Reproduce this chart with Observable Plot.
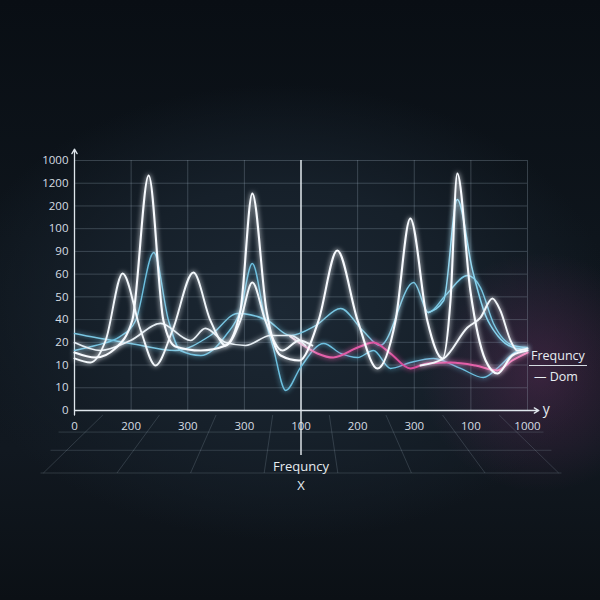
<!DOCTYPE html>
<html><head><meta charset="utf-8">
<script src="https://cdn.jsdelivr.net/npm/d3@7"></script>
<script src="https://cdn.jsdelivr.net/npm/@observablehq/plot@0.6"></script>
<style>
html,body{margin:0;padding:0;width:600px;height:600px;overflow:hidden;}
body{
  position:relative;
  font-family:"Open Sans",sans-serif;
  background:
    radial-gradient(ellipse 20% 20% at 90% 62%, rgba(120,50,105,0.38), rgba(120,50,105,0) 100%),
    radial-gradient(ellipse 55% 38% at 47% 52%, #1c2834 0%, #16202a 55%, rgba(16,24,32,0) 100%),
    linear-gradient(#090e14 0%, #0e151c 40%, #111820 75%, #0b1015 100%);
}
#chart{position:absolute;left:0;top:0;}
.legend{position:absolute;left:529px;top:348px;color:#e8eef2;font-size:12.5px;line-height:15px;}
.legend .t{border-bottom:1px solid #d5dce2;padding:0 2px 2px 2px;}
.legend .d{padding-left:5px;margin-top:3px;}
</style></head><body>
<div id="chart"></div>
<div class="legend"><div class="t">Frequncy</div><div class="d">— Dom</div></div>
<script>
// Tick labels (as printed in the reference)
const xTickLabels = ["0","200","300","300","100","200","300","100","1000"];
const yTickLabels = ["0","10","10","20","40","50","60","90","100","200","1200","1000"];

// Series values: [x position index, y grid level]
const lineA = [[0,2.55],[0.37,2.33],[0.72,2.73],[1.02,3.96],[1.31,10.34],[1.57,3.96],[1.78,2.82],[2.23,2.64],[2.67,2.86],[2.93,4.40],[3.14,9.55],[3.39,4.40],[3.64,2.42],[3.97,2.20],[4.31,3.96],[4.64,7.04],[5.00,3.96],[5.35,1.85],[5.67,3.96],[5.93,8.45],[6.23,3.96],[6.50,2.29],[6.64,4.84],[6.76,10.43],[6.99,5.28],[7.26,2.20],[7.47,1.63],[7.73,2.42],[8,2.64]];
const lineB = [[0,2.29],[0.28,2.11],[0.55,3.08],[0.85,6.03],[1.17,3.52],[1.43,1.98],[1.73,3.52],[2.10,6.07],[2.40,3.96],[2.67,2.86],[2.93,3.96],[3.14,5.63],[3.37,3.96],[3.67,2.64],[3.97,3.08],[4.20,2.86]];
const lineC = [[0,2.64],[0.37,2.86],[0.81,3.26],[1.08,3.96],[1.40,6.95],[1.66,3.96],[1.87,2.64],[2.23,2.42],[2.67,3.30],[2.93,4.40],[3.14,6.47],[3.37,3.96],[3.50,2.86],[3.73,0.88],[3.99,1.89],[4.40,2.95],[4.70,2.51],[5.00,2.33],[5.28,2.64],[5.58,1.85],[5.93,2.11],[6.34,2.29],[6.82,1.85],[7.22,1.45],[7.52,1.98],[7.75,2.51],[8,2.73]];
const lineD = [[0,2.99],[0.46,2.64],[0.99,3.08],[1.52,3.83],[2.05,3.08],[2.31,3.61],[2.67,2.99],[3.02,2.86],[3.46,3.30],[3.81,3.30],[4.08,2.86]];
const lineE = [[0,3.39],[0.37,3.21],[0.99,2.95],[1.78,2.64],[2.40,3.30],[2.88,4.27],[3.41,3.96],[3.81,3.30],[4.26,3.74],[4.70,4.49],[5.09,3.52],[5.40,2.86],[5.99,5.63],[6.25,4.31],[6.55,5.06],[6.94,5.94],[7.17,5.41],[7.40,3.83],[7.75,2.86],[8,2.77]];
const lineI = [[6.25,4.31],[6.52,4.84],[6.76,9.28],[7.03,6.16],[7.26,4.18],[7.47,3.30],[7.75,2.77],[8,2.68]];
const lineG = [[3.81,3.26],[3.99,2.95],[4.29,2.51],[4.57,2.33],[5.00,2.77],[5.28,2.99],[5.58,2.51],[5.93,1.85],[6.23,2.07],[6.64,2.11],[7.08,1.98],[7.47,1.76],[7.73,2.20],[8,2.55]];
const lineH = [[6.11,1.98],[6.52,2.29],[6.94,3.65],[7.17,4.09],[7.38,4.93],[7.52,4.40],[7.70,3.08],[7.82,2.64],[8,2.73]];

const seriesList = [
  {pts: lineE, color: "#78c6e2", width: 1.4},
  {pts: lineC, color: "#6cc0e0", width: 1.4},
  {pts: lineI, color: "#86d2ee", width: 1.5},
  {pts: lineG, color: "url(#pinkGrad)", width: 2.0},
  {pts: lineD, color: "#e6eef4", width: 1.7},
  {pts: lineH, color: "#f2f6fa", width: 1.9},
  {pts: lineB, color: "#f2f7fb", width: 1.9},
  {pts: lineA, color: "#f8fbff", width: 2.1}
];

// Floor decoration (perspective grid below the axis)
const floorCols = [0.5,1.5,2.5,3.5,4.5,5.5,6.5,7.5];
const floorRows = [-0.95,-1.75,-2.75];
const floorTop = -0.2, floorBottom = -2.75, colSpread = 1.3, center = 4;
const floorColLinks = floorCols.map(x => ({x1: x, y1: floorTop, x2: center + (x - center) * colSpread, y2: floorBottom}));
const floorRowLinks = floorRows.map(y => {
  const t = (floorTop - y) / (floorTop - floorBottom);
  const half = 4.15 + 0.45 * t;
  return {x1: center - half, x2: center + half, y1: y, y2: y};
});

const marks = [
  Plot.gridY({ticks: d3.range(12), stroke: "#a8b8c8", strokeOpacity: 0.27}),
  Plot.gridX({ticks: d3.range(9), stroke: "#a8b8c8", strokeOpacity: 0.27}),
  Plot.link(floorColLinks, {x1: "x1", y1: "y1", x2: "x2", y2: "y2", stroke: "#9aabba", strokeOpacity: 0.22}),
  Plot.link(floorRowLinks, {x1: "x1", y1: "y1", x2: "x2", y2: "y2", stroke: "#9aabba", strokeOpacity: 0.22}),
  Plot.axisX({ticks: d3.range(9), tickFormat: i => xTickLabels[i], tickSize: 0, tickPadding: 11, fontSize: 11.5, label: null}),
  Plot.axisY({ticks: d3.range(12), tickFormat: i => yTickLabels[i], tickSize: 0, tickPadding: 6, fontSize: 11.5, label: null}),
  Plot.ruleX([4], {y1: -1.98, y2: 11, stroke: "#e8eef2", strokeWidth: 1.4}),
  Plot.arrow([{x1: 0, y1: -0.2, x2: 0, y2: 11.5}], {x1: "x1", y1: "y1", x2: "x2", y2: "y2", stroke: "#dfe6ec", strokeWidth: 1.3, headLength: 6}),
  Plot.arrow([{x1: 0, y1: 0, x2: 8.2, y2: 0}], {x1: "x1", y1: "y1", x2: "x2", y2: "y2", stroke: "#dfe6ec", strokeWidth: 1.3, headLength: 6}),
  Plot.text(["y"], {x: 8.2, y: 0, dx: 4, dy: -1, textAnchor: "start", fontSize: 14, fill: "#e6ecf0"}),
  Plot.text(["Frequncy"], {x: 4, frameAnchor: "bottom", dy: 60, fontSize: 13, fill: "#e6ecf0"}),
  Plot.text(["X"], {x: 4, frameAnchor: "bottom", dy: 79, fontSize: 13, fill: "#e6ecf0"}),
  ...seriesList.map(s => Plot.line(s.pts, {x: d => d[0], y: d => d[1], stroke: s.color, strokeWidth: s.width, curve: "monotone-x"}))
];

const svg = Plot.plot({
  width: 600,
  height: 600,
  marginLeft: 74,
  marginRight: 73,
  marginTop: 160,
  marginBottom: 190,
  x: {domain: [0, 8]},
  y: {domain: [0, 11]},
  style: {background: "transparent", color: "#d6dde3", fontFamily: "'Open Sans', sans-serif", overflow: "visible"},
  marks
});

svg.insertAdjacentHTML("afterbegin", `<defs>
  <filter id="glow" filterUnits="userSpaceOnUse" x="0" y="0" width="600" height="600">
    <feGaussianBlur stdDeviation="2.4" result="b"/>
    <feMerge><feMergeNode in="b"/><feMergeNode in="SourceGraphic"/></feMerge>
  </filter>
  <linearGradient id="pinkGrad" x1="0" x2="1" y1="0" y2="0">
    <stop offset="0" stop-color="#f4e4f0"/>
    <stop offset="0.12" stop-color="#e462aa"/>
    <stop offset="0.55" stop-color="#d94a9b"/>
    <stop offset="1" stop-color="#f27ab8"/>
  </linearGradient>
</defs>`);
svg.querySelectorAll("g[aria-label='line']").forEach(g => g.setAttribute("filter", "url(#glow)"));

document.getElementById("chart").appendChild(svg);
</script>
</body></html>
